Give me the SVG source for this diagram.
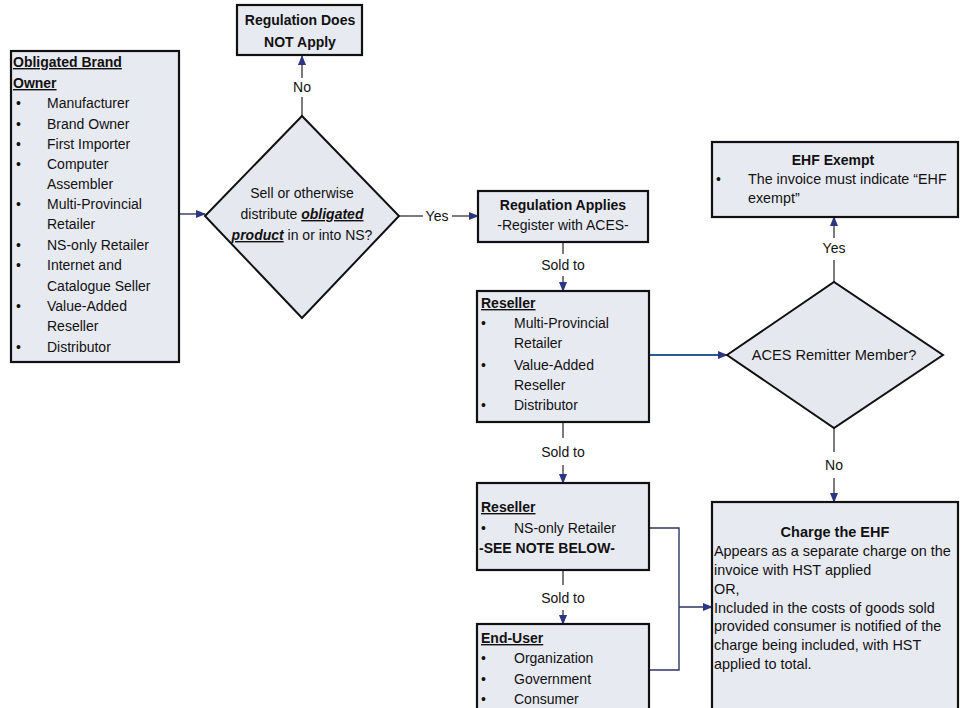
<svg xmlns="http://www.w3.org/2000/svg" width="962" height="708" viewBox="0 0 962 708">
<defs>
<marker id="ah" markerUnits="userSpaceOnUse" markerWidth="10" markerHeight="10" viewBox="0 0 10 10" refX="9" refY="5" orient="auto">
<path d="M0,1 L10,5 L0,9 Z" fill="#2d3582"/>
</marker>
<style>
.box{fill:#e8eaf2;stroke:#111;stroke-width:2.2}
.dia{fill:#e6e8f0;stroke:#111;stroke-width:2}
.t{font-family:"Liberation Sans",Arial,sans-serif;font-size:14px;fill:#111}
.b{font-weight:bold}
.u{text-decoration:underline}
.c{text-anchor:middle}
.ln{fill:none;stroke:#444;stroke-width:1.4}
.blue{fill:none;stroke:#2a5a9a;stroke-width:1.8}
.nv{fill:none;stroke:#2d3560;stroke-width:1.4}
</style>
</defs>
<rect width="962" height="708" fill="#fff"/>

<g id="connectors">
<line class="nv" x1="179" y1="214" x2="205" y2="214" marker-end="url(#ah)"/>
<line class="ln" x1="302" y1="116" x2="302" y2="97"/>
<text class="t c" x="302" y="92">No</text>
<line class="ln" x1="302" y1="78" x2="302" y2="56" marker-end="url(#ah)"/>
<line class="ln" x1="399" y1="216" x2="423" y2="216"/>
<text class="t c" x="437" y="221">Yes</text>
<line class="ln" x1="452" y1="216" x2="478" y2="216" marker-end="url(#ah)"/>
<line class="ln" x1="563" y1="242" x2="563" y2="254"/>
<text class="t c" x="563" y="270">Sold to</text>
<line class="ln" x1="563" y1="276" x2="563" y2="291" marker-end="url(#ah)"/>
<line class="blue" x1="649" y1="355" x2="727" y2="355" marker-end="url(#ah)"/>
<line class="ln" x1="834" y1="282" x2="834" y2="260"/>
<text class="t c" x="834" y="253">Yes</text>
<line class="ln" x1="834" y1="238" x2="834" y2="217" marker-end="url(#ah)"/>
<line class="ln" x1="834" y1="428" x2="834" y2="452"/>
<text class="t c" x="834" y="470">No</text>
<line class="ln" x1="834" y1="478" x2="834" y2="502" marker-end="url(#ah)"/>
<line class="ln" x1="563" y1="422" x2="563" y2="438"/>
<text class="t c" x="563" y="457">Sold to</text>
<line class="ln" x1="563" y1="465" x2="563" y2="483" marker-end="url(#ah)"/>
<line class="ln" x1="563" y1="570" x2="563" y2="585"/>
<text class="t c" x="563" y="603">Sold to</text>
<line class="ln" x1="563" y1="610" x2="563" y2="624" marker-end="url(#ah)"/>
<polyline class="nv" points="649,528 679,528 679,670 649,670"/>
<line class="nv" x1="679" y1="607" x2="712" y2="607" marker-end="url(#ah)"/>
</g>

<g id="brand-owner">
<rect class="box" x="11" y="51" width="168" height="311"/>
<text class="t b u" x="13" y="67">Obligated Brand</text>
<text class="t b u" x="13" y="88">Owner</text>
<g class="t">
<text x="16" y="108">•</text><text x="47" y="108">Manufacturer</text>
<text x="16" y="129">•</text><text x="47" y="129">Brand Owner</text>
<text x="16" y="149">•</text><text x="47" y="149">First Importer</text>
<text x="16" y="169">•</text><text x="47" y="169">Computer</text>
<text x="47" y="189">Assembler</text>
<text x="16" y="209">•</text><text x="47" y="209">Multi-Provincial</text>
<text x="47" y="229">Retailer</text>
<text x="16" y="250">•</text><text x="47" y="250">NS-only Retailer</text>
<text x="16" y="270">•</text><text x="47" y="270">Internet and</text>
<text x="47" y="291">Catalogue Seller</text>
<text x="16" y="311">•</text><text x="47" y="311">Value-Added</text>
<text x="47" y="331">Reseller</text>
<text x="16" y="352">•</text><text x="47" y="352">Distributor</text>
</g>
</g>

<g id="not-apply">
<rect class="box" x="237" y="5" width="125" height="50"/>
<text class="t b c" x="300" y="25">Regulation Does</text>
<text class="t b c" x="300" y="47">NOT Apply</text>
</g>

<g id="decision-sell">
<polygon class="dia" points="205,216 302,116 399,216 302,318"/>
<text class="t c" x="302" y="198">Sell or otherwise</text>
<text class="t c" x="302" y="219">distribute <tspan class="b u" font-style="italic">obligated</tspan></text>
<text class="t c" x="302" y="240"><tspan class="b u" font-style="italic">product</tspan> in or into NS?</text>
</g>

<g id="reg-applies">
<rect class="box" x="478" y="191" width="170" height="51"/>
<text class="t b c" x="563" y="210">Regulation Applies</text>
<text class="t c" x="563" y="230">-Register with ACES-</text>
</g>

<g id="reseller1">
<rect class="box" x="477" y="291" width="172" height="131"/>
<text class="t b u" x="481" y="308">Reseller</text>
<g class="t">
<text x="481" y="328">•</text><text x="514" y="328">Multi-Provincial</text>
<text x="514" y="348">Retailer</text>
<text x="481" y="370">•</text><text x="514" y="370">Value-Added</text>
<text x="514" y="390">Reseller</text>
<text x="481" y="410">•</text><text x="514" y="410">Distributor</text>
</g>
</g>

<g id="aces-decision">
<polygon class="dia" points="727,355 834,282 943,355 834,428"/>
<text class="t c" x="834" y="360" style="font-size:14.6px">ACES Remitter Member?</text>
</g>

<g id="ehf-exempt">
<rect class="box" x="712" y="142" width="246" height="75"/>
<text class="t b c" x="833" y="165">EHF Exempt</text>
<text class="t" x="716" y="184">•</text>
<text class="t" x="748" y="184" style="font-size:14.3px">The invoice must indicate “EHF</text>
<text class="t" x="748" y="203" style="font-size:14.3px">exempt”</text>
</g>

<g id="charge-ehf">
<rect class="box" x="712" y="502" width="246" height="220"/>
<text class="t b c" x="835" y="537" style="font-size:14.5px">Charge the EHF</text>
<g class="t" style="font-size:14.4px">
<text x="714" y="556">Appears as a separate charge on the</text>
<text x="714" y="575">invoice with HST applied</text>
<text x="714" y="594">OR,</text>
<text x="714" y="613">Included in the costs of goods sold</text>
<text x="714" y="631">provided consumer is notified of the</text>
<text x="714" y="650">charge being included, with HST</text>
<text x="714" y="669">applied to total.</text>
</g>
</g>

<g id="reseller2">
<rect class="box" x="477" y="483" width="172" height="87"/>
<text class="t b u" x="481" y="512">Reseller</text>
<text class="t" x="481" y="533">•</text>
<text class="t" x="514" y="533">NS-only Retailer</text>
<text class="t b" x="479" y="553">-SEE NOTE BELOW-</text>
</g>

<g id="end-user">
<rect class="box" x="477" y="624" width="172" height="100"/>
<text class="t b u" x="481" y="643">End-User</text>
<g class="t">
<text x="481" y="663">•</text><text x="514" y="663">Organization</text>
<text x="481" y="684">•</text><text x="514" y="684">Government</text>
<text x="481" y="704">•</text><text x="514" y="704">Consumer</text>
</g>
</g>
</svg>
